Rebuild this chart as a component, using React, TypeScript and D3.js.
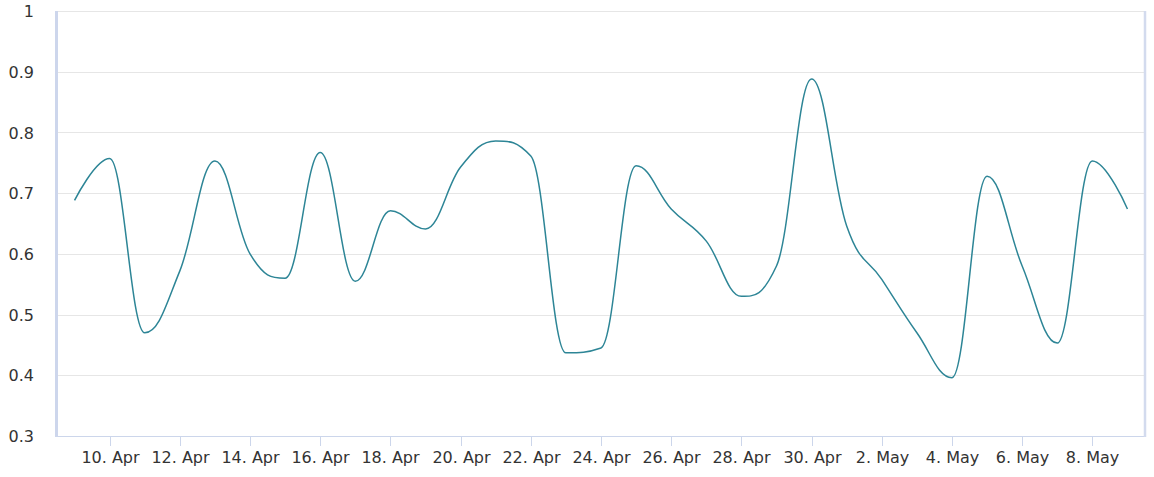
import * as d3 from "d3";

const WIDTH = 1154;
const HEIGHT = 477;
const MARGIN = { top: 11, right: 9, bottom: 41, left: 57 };

// daily values, 9 Apr .. 9 May
const startDate = "2024-04-09";
const values = [
  0.688, 0.757, 0.47, 0.572, 0.753, 0.6, 0.56, 0.767, 0.555, 0.671, 0.641,
  0.743, 0.786, 0.761, 0.437, 0.445, 0.745, 0.674, 0.621, 0.53, 0.58, 0.888,
  0.646, 0.558, 0.47, 0.396, 0.728, 0.58, 0.453, 0.753, 0.674,
];

const xTicks = [
  "2024-04-10", "2024-04-12", "2024-04-14", "2024-04-16", "2024-04-18",
  "2024-04-20", "2024-04-22", "2024-04-24", "2024-04-26", "2024-04-28",
  "2024-04-30", "2024-05-02", "2024-05-04", "2024-05-06", "2024-05-08",
];
const yTicks = [0.3, 0.4, 0.5, 0.6, 0.7, 0.8, 0.9, 1];

const LINE_COLOR = "#2d8596";
const AXIS_COLOR = "#ccd6eb";
const GRID_COLOR = "#e6e6e6";
const FONT = "'DejaVu Sans', Verdana, sans-serif";

type Pt = { x: number; y: number };

// spline like Highcharts (smoothing 1.5), built with d3.path
const splinePath = (pts: Pt[]) => {
  const p = d3.path();
  const sm = 1.5;
  const den = sm + 1;
  let lastRight: Pt | null = null;
  pts.forEach((pt, i) => {
    const prev = pts[i - 1];
    const next = pts[i + 1];
    let left: Pt | null = null;
    let right: Pt | null = null;
    if (prev && next) {
      const lx = (sm * pt.x + prev.x) / den;
      let ly = (sm * pt.y + prev.y) / den;
      const rx = (sm * pt.x + next.x) / den;
      let ry = (sm * pt.y + next.y) / den;
      if (rx !== lx) {
        const corr = ((ry - ly) * (rx - pt.x)) / (rx - lx) + pt.y - ry;
        ly += corr;
        ry += corr;
      }
      if (ly > prev.y && ly > pt.y) {
        ly = Math.max(prev.y, pt.y);
        ry = 2 * pt.y - ly;
      } else if (ly < prev.y && ly < pt.y) {
        ly = Math.min(prev.y, pt.y);
        ry = 2 * pt.y - ly;
      }
      if (ry > next.y && ry > pt.y) {
        ry = Math.max(next.y, pt.y);
        ly = 2 * pt.y - ry;
      } else if (ry < next.y && ry < pt.y) {
        ry = Math.min(next.y, pt.y);
        ly = 2 * pt.y - ry;
      }
      left = { x: lx, y: ly };
      right = { x: rx, y: ry };
    }
    if (i === 0) {
      p.moveTo(pt.x, pt.y);
    } else {
      const c1 = lastRight ?? prev;
      const c2 = left ?? pt;
      p.bezierCurveTo(c1.x, c1.y, c2.x, c2.y, pt.x, pt.y);
    }
    lastRight = right;
  });
  return p.toString();
};

export default function App() {
  const boundsWidth = WIDTH - MARGIN.left - MARGIN.right;
  const boundsHeight = HEIGHT - MARGIN.top - MARGIN.bottom;

  const parse = d3.utcParse("%Y-%m-%d");
  const start = parse(startDate) as Date;
  const data = values.map((v, i) => ({ date: d3.utcDay.offset(start, i), v }));

  const xScale = d3
    .scaleUtc()
    .domain([
      new Date(+data[0].date - 12 * 3600e3),
      new Date(+data[data.length - 1].date + 12 * 3600e3),
    ])
    .range([0, boundsWidth]);

  const yScale = d3.scaleLinear().domain([0.3, 1]).range([boundsHeight, 0]);

  const fmt = d3.utcFormat("%-d. %b");
  const linePath = splinePath(
    data.map((d) => ({ x: xScale(d.date), y: yScale(d.v) }))
  );

  return (
    <div>
      <style>{`body{margin:0}`}</style>
      <svg width={WIDTH} height={HEIGHT} style={{ display: "block" }}>
        <rect width={WIDTH} height={HEIGHT} fill="#ffffff" />
        <g transform={`translate(${MARGIN.left},${MARGIN.top})`}>
          {/* grid */}
          {yTicks.slice(1).map((t) => (
            <line
              key={t}
              x1={0}
              x2={boundsWidth}
              y1={Math.round(yScale(t)) + 0.5}
              y2={Math.round(yScale(t)) + 0.5}
              stroke={GRID_COLOR}
            />
          ))}
          {/* y labels */}
          {yTicks.map((t) => (
            <text
              key={t}
              x={-23}
              y={yScale(t)}
              dy="0.38em"
              textAnchor="end"
              fontFamily={FONT}
              fontSize={16}
              fill="#333333"
            >
              {String(t)}
            </text>
          ))}
          {/* x axis */}
          <line
            x1={0}
            x2={boundsWidth}
            y1={boundsHeight + 0.5}
            y2={boundsHeight + 0.5}
            stroke={AXIS_COLOR}
          />
          {xTicks.map((s) => {
            const d = parse(s) as Date;
            const x = Math.round(xScale(d)) + 0.5;
            return (
              <g key={s}>
                <line
                  x1={x}
                  x2={x}
                  y1={boundsHeight}
                  y2={boundsHeight + 10}
                  stroke={AXIS_COLOR}
                />
                <text
                  x={x}
                  y={boundsHeight + 27}
                  textAnchor="middle"
                  fontFamily={FONT}
                  fontSize={16}
                  fill="#333333"
                >
                  {fmt(d)}
                </text>
              </g>
            );
          })}
          {/* left and right axis lines */}
          <line x1={-0.5} x2={-0.5} y1={0} y2={boundsHeight + 1} stroke="#cdd6ec" strokeWidth={3} />
          <line
            x1={boundsWidth}
            x2={boundsWidth}
            y1={0}
            y2={boundsHeight + 1}
            stroke="#d3dbee"
            strokeWidth={2.5}
          />
          {/* series */}
          <path d={linePath} fill="none" stroke={LINE_COLOR} strokeWidth={1.5} />
        </g>
      </svg>
    </div>
  );
}
